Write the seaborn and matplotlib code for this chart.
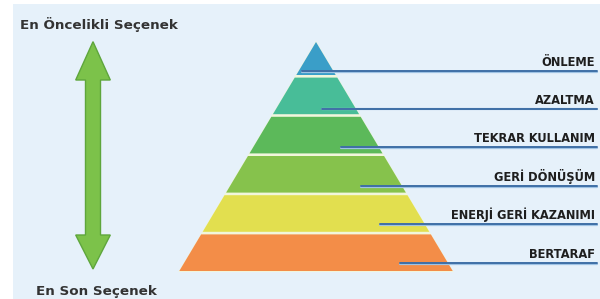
import matplotlib
matplotlib.use("Agg")
import matplotlib.pyplot as plt
from matplotlib.patches import Polygon, Rectangle
import numpy as np
import pandas as pd
import seaborn as sns

# ---- data ----
levels = ["ÖNLEME", "AZALTMA", "TEKRAR KULLANIM", "GERİ DÖNÜŞÜM",
          "ENERJİ GERİ KAZANIMI", "BERTARAF"]
layer_colors = ["#3a9ec8", "#48bd98", "#5cb95a", "#86c24c", "#e2df4f", "#f38d48"]
top_label = "En Öncelikli Seçenek"
bottom_label = "En Son Seçenek"

sns.set_theme(style="white")
plt.rcParams['font.family'] = ['DejaVu Sans']

W, H = 600, 299
fig = plt.figure(figsize=(6.0, 2.99), dpi=100)
ax = fig.add_axes([0, 0, 1, 1])
fig.patch.set_facecolor("white")

# background panel
ax.add_patch(Rectangle((13, 4), W - 13, H - 4, facecolor="#e6f1fa", edgecolor="none", zorder=0))

# ---- pyramid ----
cx, apex_y, base_y = 316, 42, 271
slope = 0.597
n = len(levels)
step = 39.2
gap = 2.6

def hw(y):
    return (y - apex_y) * slope

# cream backing triangle (gaps)
ax.add_patch(Polygon([(cx, apex_y - 1), (cx + hw(base_y) + 1, base_y + 1), (cx - hw(base_y) - 1, base_y + 1)],
                     closed=True, facecolor="#f1f6dc", edgecolor="none", zorder=1))

bottoms = [base_y - (n - 1 - i) * step for i in range(n)]
for i, (lab, col) in enumerate(zip(levels, layer_colors)):
    yb = bottoms[i]
    yt = apex_y if i == 0 else bottoms[i - 1] + gap
    pts = [(cx - hw(yt), yt), (cx + hw(yt), yt), (cx + hw(yb), yb), (cx - hw(yb), yb)]
    ax.add_patch(Polygon(pts, closed=True, facecolor=col, edgecolor="none", zorder=2))

# ---- leader lines ----
rows = []
for i, lab in enumerate(levels):
    y = bottoms[i] - (4.3 if i == 0 else 5.0 + 0.6 * i)
    x0 = 302 + 19.5 * i
    rows.append({"level": lab, "x": x0, "y": y})
    rows.append({"level": lab, "x": 597, "y": y})
df = pd.DataFrame(rows)
sns.lineplot(data=df.assign(y=df.y + 0.8), x="x", y="y", units="level", estimator=None, sort=False,
             color="#9fc3e4", lw=1.6, ax=ax, zorder=3, legend=False)
sns.lineplot(data=df, x="x", y="y", units="level", estimator=None, sort=False,
             color="#3f6fa6", lw=1.4, ax=ax, zorder=4, legend=False)
ax.set_xlim(0, W)
ax.set_ylim(H, 0)
ax.axis("off")

for lab in levels:
    y = df[df.level == lab].y.iloc[0]
    ax.text(595, y - 5, lab, ha="right", va="baseline", fontsize=8.3,
            fontweight="bold", color="#1e1e1e", zorder=5)

# ---- double-headed arrow ----
ax_x = 93
shaft = 7.5
head = 17.3
arrow_pts = [(ax_x, 41.7), (ax_x + head, 80), (ax_x + shaft, 80), (ax_x + shaft, 235),
             (ax_x + head, 235), (ax_x, 269), (ax_x - head, 235), (ax_x - shaft, 235),
             (ax_x - shaft, 80), (ax_x - head, 80)]
ax.add_patch(Polygon(arrow_pts, closed=True, facecolor="#7cc24a", edgecolor="#5ea63c",
                     lw=1.0, zorder=2))

ax.text(20, 29, top_label, ha="left", va="baseline", fontsize=9.7,
        fontweight="bold", color="#333333")
ax.text(36, 295, bottom_label, ha="left", va="baseline", fontsize=9.7,
        fontweight="bold", color="#333333")

fig.savefig("out.png", dpi=100, facecolor="white")
